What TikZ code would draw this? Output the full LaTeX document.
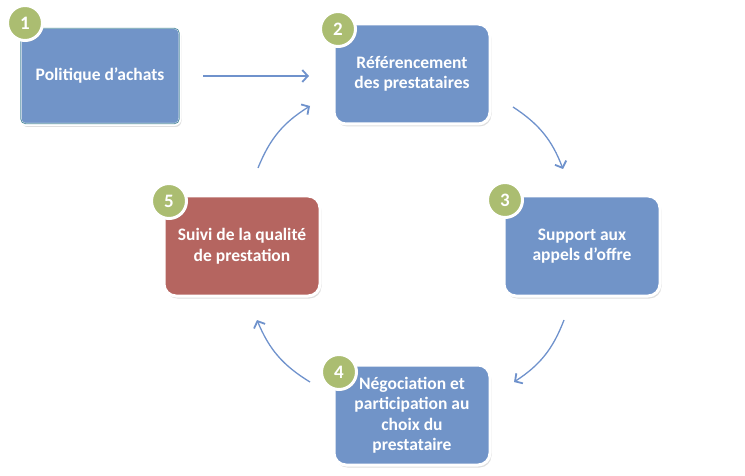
\documentclass[tikz,border=0pt]{standalone}
\usepackage{fontspec}
\setmainfont{Carlito}
\usetikzlibrary{arrows.meta,shadows}
\definecolor{boxblue}{RGB}{113,148,200}
\definecolor{boxred}{RGB}{181,101,96}
\definecolor{numgreen}{RGB}{171,189,113}
\definecolor{arrblue}{RGB}{111,146,204}
\definecolor{tealedge}{RGB}{80,140,160}
\tikzset{
  stepbox/.style={rectangle, rounded corners=12pt, fill=boxblue, draw=white, line width=3pt,
    minimum width=156pt, minimum height=100pt, text=white, align=center,
    font=\bfseries\fontsize{17.5}{20.5}\selectfont,
    drop shadow={opacity=0.25, shadow xshift=1.5pt, shadow yshift=-2.5pt}},
  numcirc/.style={circle, fill=numgreen, draw=white, line width=3pt, minimum size=35pt,
    inner sep=0pt, text=white, font=\bfseries\fontsize{19}{20}\selectfont,
    drop shadow={opacity=0.25, shadow xshift=1pt, shadow yshift=-1.5pt}},
  arr/.style={draw=arrblue, line width=1.3pt,
    -{Straight Barb[length=5.5pt,width=12pt,line width=1.8pt]}}
}
\begin{document}
\begin{tikzpicture}[x=1pt,y=-1pt]
\useasboundingbox (0,0) rectangle (745,476);
% boxes
\node[stepbox, rounded corners=6pt, minimum width=160pt, minimum height=97pt] (b1) at (100,76) {Politique d’achats};
\draw[tealedge, line width=0.8pt, rounded corners=5pt]
  ([shift={(2.2pt,2.2pt)}]b1.south west) rectangle ([shift={(-2.2pt,-2.2pt)}]b1.north east);
\node[stepbox] (b2) at (412,74) {Référencement\\des prestataires};
\node[stepbox] (b3) at (582,246) {Support aux\\appels d’offre};
\node[stepbox] (b4) at (412,415) {Négociation et\\participation au\\choix du\\prestataire};
\node[stepbox, fill=boxred] (b5) at (242,246) {Suivi de la qualité\\de prestation};
% numbers
\node[numcirc] (n1) at (25,23) {1};
\node[numcirc] (n2) at (338,29) {2};
\node[numcirc] (n3) at (505,200) {3};
\node[numcirc] (n4) at (339,372) {4};
\node[numcirc] (n5) at (169,201) {5};
% arrow end points
\coordinate (a12s) at (203,76);
\coordinate (a12e) at (309,76);
\coordinate (a23s) at (513,107);
\coordinate (a23e) at (563,169);
\coordinate (a34s) at (564,320);
\coordinate (a34e) at (514,382);
\coordinate (a45s) at (310,382);
\coordinate (a45e) at (257,320);
\coordinate (a52s) at (258,168);
\coordinate (a52e) at (310,106);
\draw[arr] (a12s) -- (a12e);
\draw[arr] (a23s) to[bend left=18] (a23e);
\draw[arr] (a34s) to[bend left=18] (a34e);
\draw[arr] (a45s) to[bend left=18] (a45e);
\draw[arr] (a52s) to[bend left=18] (a52e);
\end{tikzpicture}
\end{document}
